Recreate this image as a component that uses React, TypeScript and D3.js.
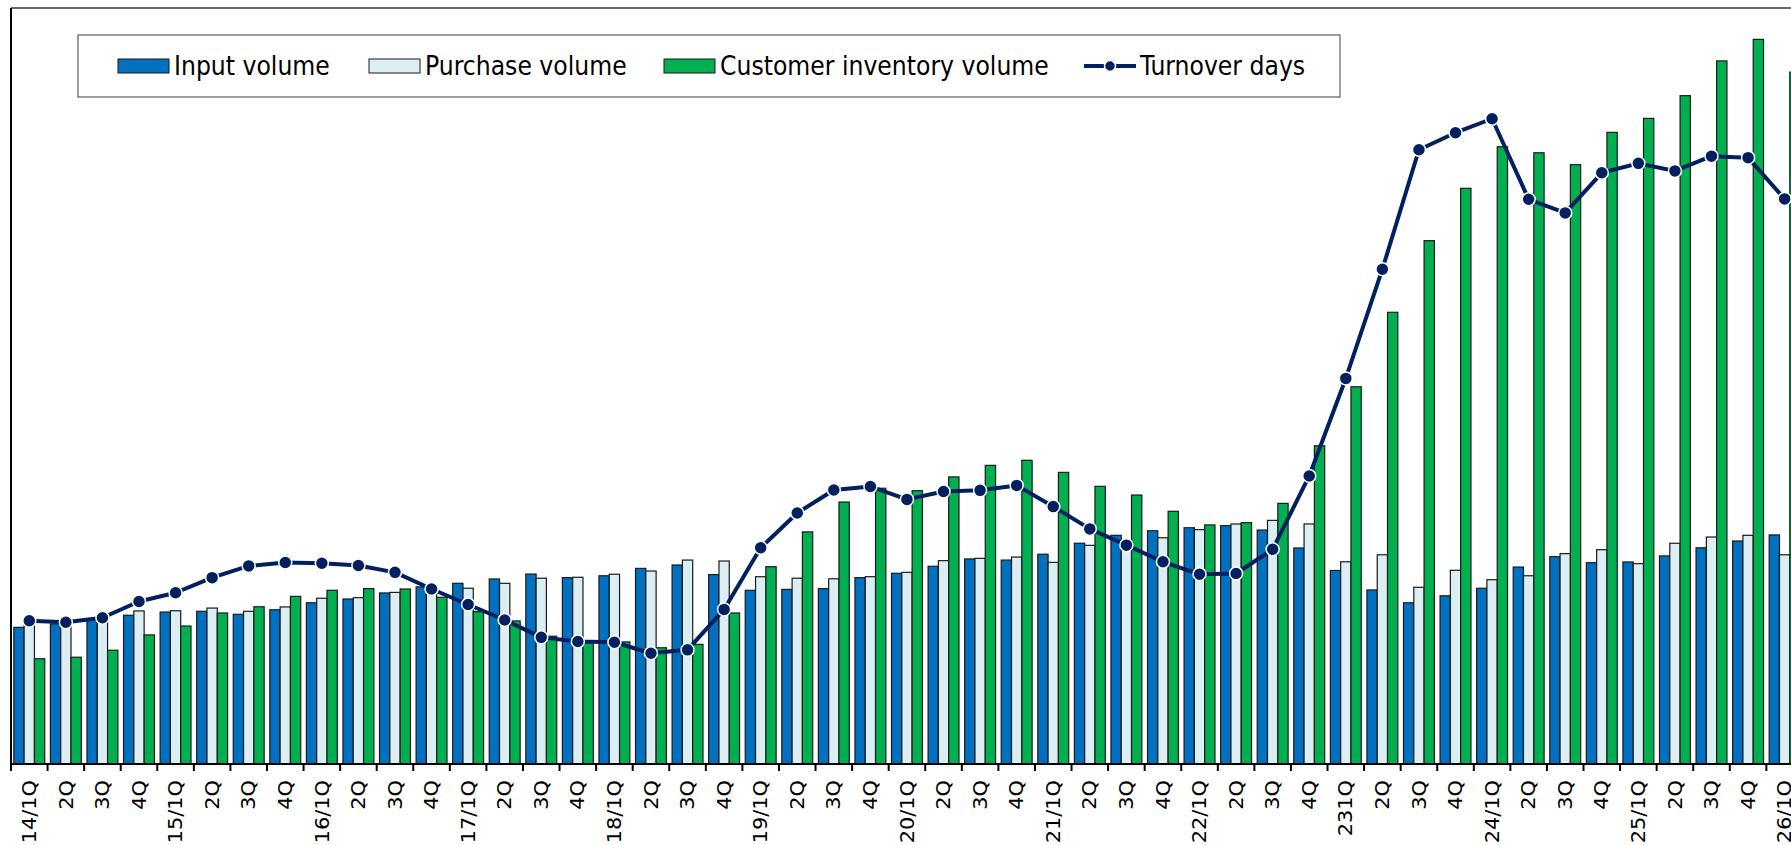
import React from "react";
import * as d3 from "d3";

// quarter labels, as printed on the axis
const quarters = [
  "14/1Q", "2Q", "3Q", "4Q",
  "15/1Q", "2Q", "3Q", "4Q",
  "16/1Q", "2Q", "3Q", "4Q",
  "17/1Q", "2Q", "3Q", "4Q",
  "18/1Q", "2Q", "3Q", "4Q",
  "19/1Q", "2Q", "3Q", "4Q",
  "20/1Q", "2Q", "3Q", "4Q",
  "21/1Q", "2Q", "3Q", "4Q",
  "22/1Q", "2Q", "3Q", "4Q",
  "231Q", "2Q", "3Q", "4Q",
  "24/1Q", "2Q", "3Q", "4Q",
  "25/1Q", "2Q", "3Q", "4Q",
  "26/1Q",
];

// volumes (no scale printed, relative units)
const inputVolume = [
  72.3, 74.1, 76.2, 78.7, 80.4, 80.8, 79.2, 81.6, 85.3, 87.3, 90.5, 93.7,
  95.6, 97.9, 100.5, 98.6, 99.6, 103.5, 105.3, 100.2, 91.9, 92.4, 92.8, 98.6,
  100.9, 104.6, 108.5, 107.9, 111.0, 116.8, 121.0, 123.4, 125.0, 126.1, 123.8, 114.3,
  102.4, 92.1, 85.3, 89.0, 93.0, 104.2, 109.7, 106.5, 106.9, 110.1, 114.4, 118.0,
  121.2,
];

const purchaseVolume = [
  75.1, 74.1, 76.2, 81.0, 81.1, 82.5, 80.8, 83.1, 87.7, 88.0, 90.8, 91.5,
  93.0, 95.6, 98.3, 98.8, 100.4, 102.1, 107.9, 107.4, 99.1, 98.3, 98.0, 99.1,
  101.4, 107.6, 108.8, 109.5, 106.7, 115.7, 116.9, 119.7, 124.0, 127.0, 128.9, 127.0,
  107.0, 110.7, 93.5, 102.5, 97.5, 99.6, 111.3, 113.4, 106.0, 116.8, 120.1, 121.0,
  110.7,
];

const inventoryVolume = [
  55.7, 56.5, 60.2, 68.3, 73.0, 79.9, 83.2, 88.7, 91.9, 92.8, 92.6, 88.2,
  80.6, 75.7, 67.6, 64.0, 64.6, 61.5, 63.3, 79.9, 104.4, 122.8, 138.6, 145.9,
  144.6, 151.9, 158.0, 160.7, 154.3, 146.9, 142.3, 133.7, 126.5, 127.7, 137.9, 168.4,
  199.6, 239.0, 276.9, 304.6, 326.6, 323.4, 317.1, 334.2, 341.6, 353.6, 372.0, 383.4,
  366.1,
];

// turnover days (secondary axis, not printed)
const turnoverDays = [
  37.9, 37.5, 38.7, 43.0, 45.3, 49.3, 52.4, 53.3, 53.1, 52.5, 50.7, 46.3,
  42.2, 38.1, 33.5, 32.4, 32.2, 29.3, 30.2, 40.9, 57.2, 66.4, 72.5, 73.4,
  70.0, 72.1, 72.4, 73.7, 68.1, 62.2, 57.9, 53.5, 50.2, 50.4, 56.8, 76.2,
  102.0, 130.9, 162.5, 167.0, 170.7, 149.4, 145.8, 156.4, 158.9, 156.9, 160.8, 160.4,
  149.5,
];

const seriesNames = ["Input volume", "Purchase volume", "Customer inventory volume"];
const seriesColors = ["#0070C0", "#DAEEF3", "#00B050"];
const lineName = "Turnover days";
const lineColor = "#002060";

const W = 1791;
const H = 845;
const left = 11;
const top = 8;
const baseY = 764;
const catW = 36.57;

export default function App() {
  const idx = d3.range(quarters.length);
  const x = d3
    .scaleBand<number>()
    .domain(idx)
    .range([left, left + catW * quarters.length])
    .padding(0);
  const xSub = d3
    .scaleBand<number>()
    .domain([0, 1, 2])
    .range([0, x.bandwidth()])
    .paddingInner(0)
    .paddingOuter(0.275);
  const yBar = d3.scaleLinear().domain([0, 400]).range([baseY, top]);
  const yDays = d3.scaleLinear().domain([0, 200]).range([baseY, top]);

  const barData = [inputVolume, purchaseVolume, inventoryVolume];

  const line = d3
    .line<number>()
    .x((d, i) => x(i)! + x.bandwidth() / 2)
    .y((d) => yDays(d));

  // legend layout
  const legendItems = [
    { sx: 118, tx: 174, kind: 0 },
    { sx: 369, tx: 425, kind: 1 },
    { sx: 664, tx: 720, kind: 2 },
  ];
  const legY = 66;
  const legFont = { fontFamily: "DejaVu Sans Condensed", fontSize: 26.2 };

  return (
    <div style={{ position: "absolute", left: 0, top: 0, width: W, height: H, overflow: "hidden", background: "#fff" }}>
      <svg width={W} height={H} style={{ display: "block" }}>
        {/* plot frame */}
        <line x1={left} x2={W + 20} y1={top} y2={top} stroke="#333" strokeWidth={1.5} />

        {/* bars */}
        {barData.map((vals, s) =>
          vals.map((v, i) => (
            <rect
              key={s + "-" + i}
              x={x(i)! + xSub(s)!}
              y={yBar(v)}
              width={xSub.bandwidth()}
              height={baseY - yBar(v)}
              fill={seriesColors[s]}
              stroke="#1a1a1a"
              strokeWidth={1.2}
            />
          ))
        )}

        {/* axes */}
        <line x1={left} x2={left} y1={top} y2={baseY} stroke="#000" strokeWidth={2} />
        <line x1={left} x2={W + 20} y1={baseY} y2={baseY} stroke="#000" strokeWidth={2} />
        {idx.map((i) => (
          <line key={"t" + i} x1={x(i)!} x2={x(i)!} y1={baseY} y2={baseY + 7} stroke="#000" strokeWidth={2} />
        ))}
        {quarters.map((q, i) => (
          <text
            key={"l" + i}
            transform={`translate(${x(i)! + x.bandwidth() / 2},780) rotate(-90) scale(1.1,1)`}
            textAnchor="end"
            dominantBaseline="central"
            fontFamily="DejaVu Sans"
            fontSize={19}
            fill="#000"
          >
            {q}
          </text>
        ))}

        {/* turnover days line */}
        <path d={line(turnoverDays)!} fill="none" stroke={lineColor} strokeWidth={4} strokeLinejoin="round" />
        {turnoverDays.map((d, i) => (
          <circle
            key={"m" + i}
            cx={x(i)! + x.bandwidth() / 2}
            cy={yDays(d)}
            r={6.5}
            fill={lineColor}
            stroke="#fff"
            strokeWidth={1.5}
          />
        ))}

        {/* legend */}
        <rect x={78} y={35} width={1262} height={62} fill="#fff" stroke="#404040" strokeWidth={1} />
        {legendItems.map((it) => (
          <g key={"lg" + it.kind}>
            <rect x={it.sx} y={legY - 7} width={51} height={14} fill={seriesColors[it.kind]} stroke="#1a1a1a" strokeWidth={1} />
            <text x={it.tx} y={legY} dominantBaseline="central" {...legFont} fill="#000">
              {seriesNames[it.kind]}
            </text>
          </g>
        ))}
        <line x1={1084} x2={1136} y1={legY} y2={legY} stroke={lineColor} strokeWidth={4} />
        <circle cx={1110} cy={legY} r={5.5} fill={lineColor} stroke="#fff" strokeWidth={1.5} />
        <text x={1140} y={legY} dominantBaseline="central" {...legFont} fill="#000">
          {lineName}
        </text>
      </svg>
    </div>
  );
}
